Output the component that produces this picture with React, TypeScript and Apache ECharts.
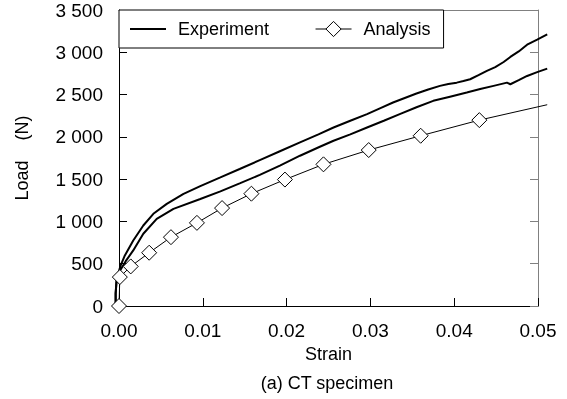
import React, { useEffect, useRef } from 'react';
import * as echarts from 'echarts';

const FONT = 'Liberation Sans, Arial, Helvetica, sans-serif';

const strainTicks = [0, 0.01, 0.02, 0.03, 0.04, 0.05];
const loadTicks = [0, 500, 1000, 1500, 2000, 2500, 3000, 3500];

const upperStrain = [-0.0004, -0.0004, -0.0003, -0.0001, 0.0002, 0.0007, 0.0017, 0.0029, 0.0041, 0.0057, 0.0077, 0.0097, 0.0121, 0.0144, 0.0168, 0.0192, 0.0216, 0.0238, 0.0256, 0.0276, 0.0296, 0.0312, 0.0327, 0.0341, 0.0355, 0.0369, 0.0383, 0.0393, 0.0403, 0.0411, 0.0419, 0.0429, 0.0439, 0.0449, 0.0459, 0.0467, 0.0477, 0.0487, 0.0499, 0.0511];
const upperLoad = [0, 150, 280, 380, 480, 598, 775, 952, 1090, 1208, 1326, 1418, 1520, 1620, 1725, 1830, 1935, 2030, 2111, 2190, 2269, 2340, 2406, 2460, 2512, 2560, 2603, 2625, 2641, 2660, 2681, 2730, 2780, 2825, 2885, 2945, 3010, 3090, 3150, 3212];

const lowerStrain = [-0.0004, -0.0004, -0.0003, 0.0, 0.0008, 0.0017, 0.0029, 0.0045, 0.0065, 0.0097, 0.0121, 0.0144, 0.0168, 0.0192, 0.0216, 0.0239, 0.0256, 0.0276, 0.0296, 0.0316, 0.0335, 0.0355, 0.0375, 0.0395, 0.0415, 0.0431, 0.0447, 0.0463, 0.0467, 0.0477, 0.0487, 0.0499, 0.0511];
const lowerLoad = [0, 150, 300, 400, 530, 657, 854, 1031, 1149, 1265, 1355, 1450, 1550, 1660, 1777, 1880, 1954, 2030, 2111, 2190, 2269, 2350, 2426, 2475, 2524, 2565, 2603, 2641, 2622, 2670, 2720, 2765, 2807];

const analysisStrain = [0, 0.0001, 0.0014, 0.0036, 0.0062, 0.0093, 0.0123, 0.0158, 0.0198, 0.0244, 0.0298, 0.036, 0.043, 0.0511];
const analysisLoad = [0, 342, 468, 630, 814, 983, 1158, 1328, 1495, 1675, 1844, 2013, 2198, 2380];
const analysisMarked = [true, true, true, true, true, true, true, true, true, true, true, true, true, false];

// plotting frame: axis range [0, 0.05] over 419 px; the data layer uses the same scale but a wider range
const X_MIN = 0;
const X_MAX = 0.05;
const DATA_X_MIN = -0.0005;
const DATA_X_MAX = 0.052;

const fmtLoad = (v: number) => {
  if (v >= 1000) {
    const th = Math.floor(v / 1000);
    const rest = String(v % 1000).padStart(3, '0');
    return `${th} ${rest}`;
  }
  return String(v);
};

export default function App() {
  const ref = useRef<HTMLDivElement>(null);
  useEffect(() => {
    const chart = echarts.init(ref.current!, null, { renderer: 'svg' });
    const pairs = (xs: number[], ys: number[]) => xs.map((x, i) => [x, ys[i]]);
    const gridLeft = 119;
    const gridWidth = 419;
    const pxPerUnit = gridWidth / (X_MAX - X_MIN);
    const dataLeft = gridLeft + (DATA_X_MIN - X_MIN) * pxPerUnit;
    const dataWidth = (DATA_X_MAX - DATA_X_MIN) * pxPerUnit;
    const option: any = {
      animation: false,
      textStyle: { fontFamily: FONT, color: '#000' },
      grid: [
        { left: gridLeft, top: 10, width: gridWidth, height: 296, containLabel: false },
        { left: dataLeft, top: 10, width: dataWidth, height: 296, containLabel: false },
      ],
      legend: {
        left: 119,
        top: 10,
        orient: 'horizontal',
        borderColor: '#000',
        borderWidth: 1,
        borderRadius: 0,
        backgroundColor: '#fff',
        padding: [10, 13, 10, 10],
        itemWidth: 36,
        itemHeight: 19,
        itemGap: 46,
        textStyle: { fontFamily: FONT, fontSize: 18, color: '#000', padding: [0, 0, 0, 7] },
        data: [
          { name: 'Experiment', itemStyle: { opacity: 0 }, lineStyle: { width: 2, color: '#000' } },
          { name: 'Analysis', itemStyle: { color: '#fff', borderColor: '#000', borderWidth: 1 }, lineStyle: { width: 1, color: '#000' } },
        ],
      },
      xAxis: [
        {
          type: 'value',
          gridIndex: 0,
          min: X_MIN,
          max: X_MAX,
          interval: 0.01,
          position: 'bottom',
          axisLine: { show: true, onZero: false, lineStyle: { color: '#000', width: 1 } },
          axisTick: { show: true, inside: true, length: 8, lineStyle: { color: '#000' } },
          axisLabel: { formatter: (v: number) => v.toFixed(2), margin: 15, fontSize: 19, color: '#000', fontFamily: FONT },
          splitLine: { show: false },
          name: 'Strain',
          nameLocation: 'middle',
          nameGap: 37,
          nameTextStyle: { fontSize: 18, color: '#000', fontFamily: FONT },
        },
        {
          type: 'value',
          gridIndex: 0,
          min: X_MIN,
          max: X_MAX,
          interval: 0.01,
          position: 'top',
          axisLine: { show: true, onZero: false, lineStyle: { color: '#808080', width: 1 } },
          axisTick: { show: false },
          axisLabel: { show: false },
          splitLine: { show: false },
        },
        {
          type: 'value',
          gridIndex: 1,
          min: DATA_X_MIN,
          max: DATA_X_MAX,
          show: false,
          splitLine: { show: false },
        },
      ],
      yAxis: [
        {
          type: 'value',
          gridIndex: 0,
          min: loadTicks[0],
          max: loadTicks[loadTicks.length - 1],
          interval: 500,
          position: 'left',
          axisLine: { show: true, onZero: false, lineStyle: { color: '#000', width: 1 } },
          axisTick: { show: true, inside: true, length: 8, lineStyle: { color: '#000' } },
          axisLabel: { formatter: fmtLoad, margin: 16, fontSize: 19, color: '#000', fontFamily: FONT },
          splitLine: { show: false },
          name: 'Load    (N)',
          nameLocation: 'middle',
          nameRotate: 90,
          nameGap: 88,
          nameTextStyle: { fontSize: 18, color: '#000', fontFamily: FONT },
        },
        {
          type: 'value',
          gridIndex: 0,
          min: loadTicks[0],
          max: loadTicks[loadTicks.length - 1],
          interval: 500,
          position: 'right',
          axisLine: { show: true, onZero: false, lineStyle: { color: '#808080', width: 1 } },
          axisTick: { show: true, inside: true, length: 8, lineStyle: { color: '#808080' } },
          axisLabel: { show: false },
          splitLine: { show: false },
        },
        {
          type: 'value',
          gridIndex: 1,
          min: loadTicks[0],
          max: loadTicks[loadTicks.length - 1],
          show: false,
          splitLine: { show: false },
        },
      ],
      series: [
        {
          type: 'line',
          name: 'Experiment',
          xAxisIndex: 2,
          yAxisIndex: 2,
          data: pairs(upperStrain, upperLoad),
          symbol: 'none',
          clip: false,
          lineStyle: { color: '#000', width: 2 },
          itemStyle: { color: '#000' },
          z: 2,
        },
        {
          type: 'line',
          name: 'Experiment',
          xAxisIndex: 2,
          yAxisIndex: 2,
          data: pairs(lowerStrain, lowerLoad),
          symbol: 'none',
          clip: false,
          lineStyle: { color: '#000', width: 2 },
          itemStyle: { color: '#000' },
          z: 2,
        },
        {
          type: 'line',
          name: 'Analysis',
          xAxisIndex: 2,
          yAxisIndex: 2,
          data: analysisStrain.map((x, i) =>
            analysisMarked[i] ? { value: [x, analysisLoad[i]] } : { value: [x, analysisLoad[i]], symbol: 'none' }
          ),
          symbol: 'diamond',
          symbolSize: 15,
          showSymbol: true,
          showAllSymbol: true,
          clip: false,
          lineStyle: { color: '#000', width: 1 },
          itemStyle: { color: '#fff', borderColor: '#000', borderWidth: 1 },
          z: 3,
        },
      ],
      graphic: [
        {
          type: 'text',
          x: 327,
          y: 383,
          style: {
            text: '(a) CT specimen',
            textAlign: 'center',
            textVerticalAlign: 'middle',
            fontSize: 18,
            fontFamily: FONT,
            fill: '#000',
          },
        },
      ],
    };
    chart.setOption(option);
    return () => chart.dispose();
  }, []);
  return <div ref={ref} style={{ position: 'fixed', left: 0, top: 0, width: 567, height: 399 }} />;
}
